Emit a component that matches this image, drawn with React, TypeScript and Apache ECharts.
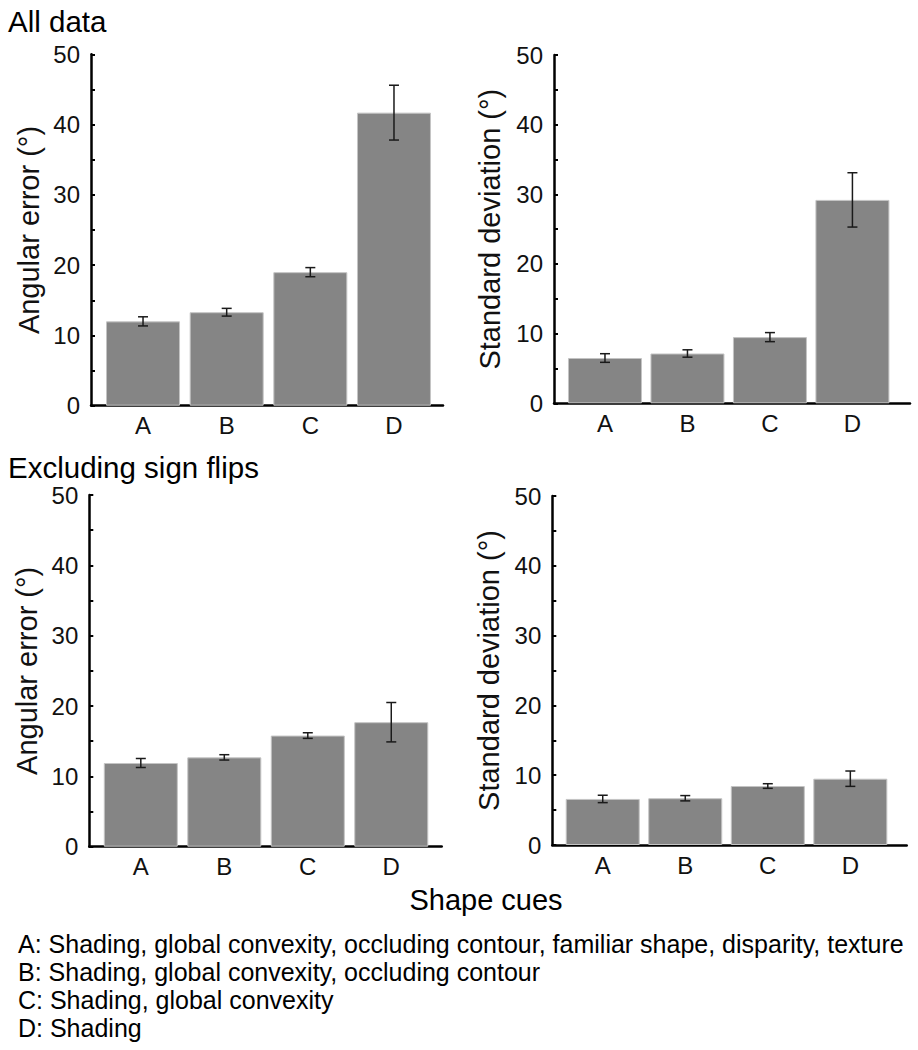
import React, { useEffect, useRef } from "react";
import * as echarts from "echarts";

const categories = ["A", "B", "C", "D"];
const yTicks = [0, 10, 20, 30, 40, 50];

const allErrMean = [12.0, 13.3, 19.0, 41.7];
const allErrSE = [0.65, 0.55, 0.65, 3.9];
const allSdMean = [6.5, 7.15, 9.5, 29.2];
const allSdSE = [0.62, 0.53, 0.65, 3.9];
const exErrMean = [11.9, 12.7, 15.8, 17.7];
const exErrSE = [0.64, 0.38, 0.4, 2.8];
const exSdMean = [6.6, 6.7, 8.45, 9.5];
const exSdSE = [0.53, 0.38, 0.33, 1.1];

const titleTop = "All data";
const titleBottom = "Excluding sign flips";
const yNameErr = "Angular error (°)";
const yNameSd = "Standard deviation (°)";
const xName = "Shape cues";
const legendLines = [
  "A: Shading, global convexity, occluding contour, familiar shape, disparity, texture",
  "B: Shading, global convexity, occluding contour",
  "C: Shading, global convexity",
  "D: Shading",
];

const FONT = "'Liberation Sans', Arial, Helvetica, sans-serif";
const TEXT = "#111";

export default function App() {
  const ref = useRef<HTMLDivElement>(null);
  useEffect(() => {
    document.body.style.margin = "0";
    if (!ref.current) return;
    const chart = echarts.init(ref.current, null, { renderer: "svg" });

    const panels = [
      { mean: allErrMean, se: allErrSE, name: yNameErr, grid: { left: 91, top: 54.3, width: 352, height: 351.4 }, xmin: 0.378, xmax: 4.586, gap: 48 },
      { mean: allSdMean, se: allSdSE, name: yNameSd, grid: { left: 554, top: 55, width: 356, height: 348.3 }, xmin: 0.382, xmax: 4.698, gap: 50 },
      { mean: exErrMean, se: exErrSE, name: yNameErr, grid: { left: 89.3, top: 495, width: 352.4, height: 351.7 }, xmin: 0.383, xmax: 4.604, gap: 48 },
      { mean: exSdMean, se: exSdSE, name: yNameSd, grid: { left: 552.3, top: 496, width: 354.4, height: 349 }, xmin: 0.389, xmax: 4.683, gap: 49 },
    ];

    const grid = panels.map((p) => ({ ...p.grid, containLabel: false }));
    const xAxis = panels.map((p, i) => ({
      type: "value",
      gridIndex: i,
      min: p.xmin,
      max: p.xmax,
      splitLine: { show: false },
      axisTick: { show: false },
      axisLine: { show: true, onZero: false, lineStyle: { color: "#000", width: 2.5 } },
      axisLabel: {
        customValues: [1, 2, 3, 4],
        formatter: (v: number) => categories[Math.round(v) - 1] ?? "",
        fontSize: 24,
        fontFamily: FONT,
        color: TEXT,
        margin: 8,
      },
    }));
    const yAxis = panels.map((p, i) => ({
      type: "value",
      gridIndex: i,
      min: yTicks[0],
      max: yTicks[yTicks.length - 1],
      interval: 10,
      name: p.name,
      nameLocation: "middle",
      nameRotate: 90,
      nameGap: p.gap,
      nameTextStyle: { fontSize: 29, fontFamily: FONT, color: TEXT },
      splitLine: { show: false },
      axisLine: { show: true, lineStyle: { color: "#000", width: 2.5 } },
      axisTick: { show: true, inside: true, length: 4, lineStyle: { color: "#000", width: 2 } },
      minorTick: { show: true, splitNumber: 2, length: 4, lineStyle: { color: "#000", width: 2 } },
      axisLabel: { fontSize: 24, fontFamily: FONT, color: TEXT, margin: 11 },
    }));

    const series: any[] = [];
    panels.forEach((p, i) => {
      series.push({
        type: "bar",
        xAxisIndex: i,
        yAxisIndex: i,
        barWidth: 74,
        data: p.mean.map((v, k) => [k + 1, v]),
        itemStyle: { color: "#858585", borderColor: "#c4c4c4", borderWidth: 1 },
        silent: true,
      });
      series.push({
        type: "custom",
        xAxisIndex: i,
        yAxisIndex: i,
        data: p.mean.map((v, k) => [k + 1, v, p.se[k]]),
        z: 5,
        silent: true,
        renderItem: (params: any, api: any) => {
          const x = api.value(0);
          const m = api.value(1);
          const e = api.value(2);
          const top = api.coord([x, m + e]);
          const bot = api.coord([x, m - e]);
          const hw = 5;
          const st = { stroke: "#1a1a1a", lineWidth: 1.5 };
          return {
            type: "group",
            children: [
              { type: "line", shape: { x1: top[0], y1: top[1], x2: bot[0], y2: bot[1] }, style: st },
              { type: "line", shape: { x1: top[0] - hw, y1: top[1], x2: top[0] + hw, y2: top[1] }, style: st },
              { type: "line", shape: { x1: bot[0] - hw, y1: bot[1], x2: bot[0] + hw, y2: bot[1] }, style: st },
            ],
          };
        },
      });
    });

    const graphic: any[] = [
      { type: "text", left: 8, top: 6, style: { text: titleTop, font: `29.5px ${FONT}`, fill: "#000" } },
      { type: "text", left: 8, top: 452, style: { text: titleBottom, font: `29.5px ${FONT}`, fill: "#000" } },
      { type: "text", x: 486, y: 900, style: { text: xName, font: `29px ${FONT}`, fill: "#000", textAlign: "center", textVerticalAlign: "middle" } },
    ];
    legendLines.forEach((t, k) => {
      graphic.push({
        type: "text",
        x: 18,
        y: 944 + k * 28,
        style: { text: t, font: `25px ${FONT}`, fill: "#000", textAlign: "left", textVerticalAlign: "middle" },
      });
    });

    chart.setOption({
      animation: false,
      backgroundColor: "#fff",
      grid,
      xAxis,
      yAxis,
      series,
      graphic,
    });
    return () => chart.dispose();
  }, []);
  return <div ref={ref} style={{ width: 918, height: 1050 }} />;
}
